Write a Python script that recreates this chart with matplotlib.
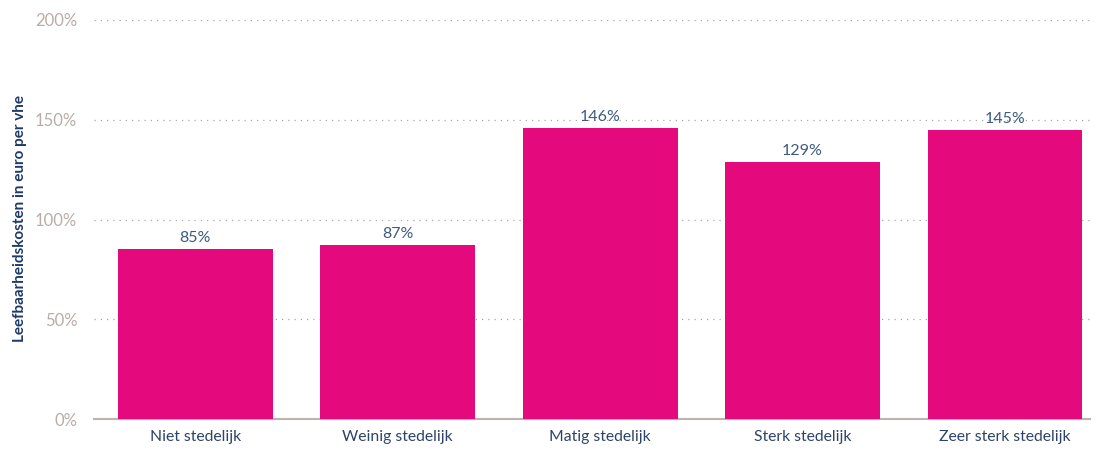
import numpy as np
import matplotlib.pyplot as plt

categories = ['Niet stedelijk', 'Weinig stedelijk', 'Matig stedelijk', 'Sterk stedelijk', 'Zeer sterk stedelijk']
values = [85, 87, 146, 129, 145]
yticks = [0, 50, 100, 150, 200]

plt.rcParams['font.family'] = ['Lato', 'DejaVu Sans']

fig = plt.figure(figsize=(10.97, 4.5), dpi=100)
ax = fig.add_axes([94 / 1097, 31 / 450, 996 / 1097, 399 / 450])

x = np.arange(len(categories))
bars = ax.bar(x, values, width=0.765, color='#E4097C', zorder=3)

for xi, v in zip(x, values):
    ax.text(xi, v + 2, f'{v}%', ha='center', va='bottom', fontsize=11.5, color='#3E5A80', zorder=4)

ax.set_ylim(0, 200)
ax.set_xlim(-0.5, 4.42)
ax.set_yticks(yticks)
ax.set_yticklabels([f'{t}%' for t in yticks], fontsize=12, color='#B9ADA8')
ax.set_xticks(x)
ax.set_xticklabels(categories, fontsize=11.3, color='#2E4368')
ax.tick_params(axis='both', length=0)
ax.tick_params(axis='y', pad=12)
ax.tick_params(axis='x', pad=8)

ax.grid(axis='y', linestyle=(0, (1, 4)), color='#A9A9A9', linewidth=0.9, zorder=0)
for s in ['top', 'right', 'left']:
    ax.spines[s].set_visible(False)
ax.spines['bottom'].set_color('#BFB3AE')
ax.spines['bottom'].set_linewidth(1.5)

fig.text(20 / 1097, 0.515, 'Leefbaarheidskosten in euro per vhe', rotation=90, ha='center', va='center',
         fontsize=11, fontweight='bold', color='#1F3A68')

fig.savefig('out.png', dpi=100)
